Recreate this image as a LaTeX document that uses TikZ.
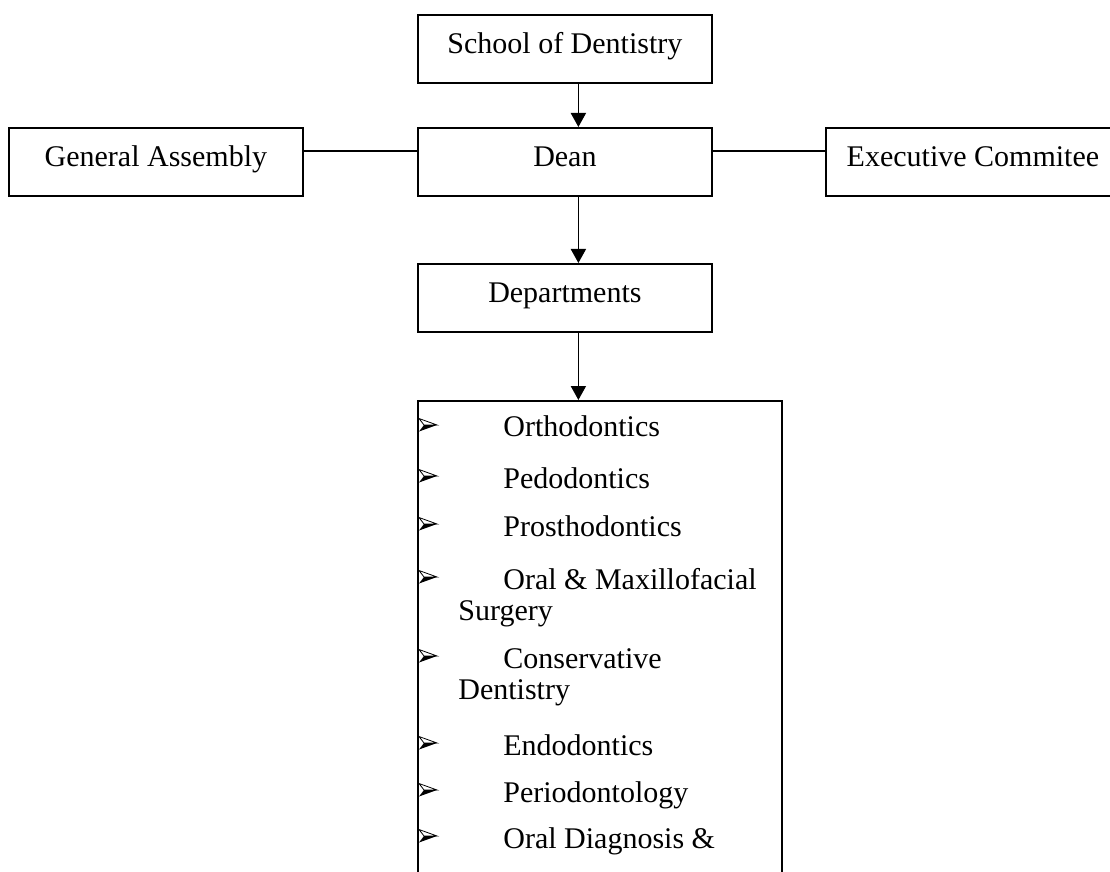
\documentclass[tikz,border=0pt]{standalone}
\usepackage{fontspec}
\setmainfont{Liberation Serif}
\usetikzlibrary{arrows.meta}

\tikzset{
  unit/.style={draw, line width=0.9pt, minimum width=147pt, text height=17pt,
    text depth=12pt, inner ysep=2.5pt, anchor=north west},
  arr/.style={line width=0.9pt, -{Triangle[length=7pt,width=7.5pt]}},
  link/.style={line width=0.9pt},
  item/.style={anchor=base west, inner sep=0pt},
}

% arrowhead bullet, light upper half and black lower half
\newcommand{\arrowbullet}[1]{%
  \draw[line width=0.4pt] (419,#1-6.5) -- (437,#1) -- (424,#1) -- cycle;
  \fill (424,#1) -- (437,#1) -- (419,#1+6.5) -- cycle;
}

\begin{document}
\begin{tikzpicture}[x=0.5pt, y=-0.5pt, font=\fontsize{15}{15.5}\selectfont]
\useasboundingbox (0,0) rectangle (1110,872);
\clip (0,0) rectangle (1110,872);

\node[unit] (school) at (417,14) {School of Dentistry};
\node[unit] (dean) at (417,127) {Dean};
\node[unit] (gen) at (8,127) {General Assembly};
\node[unit] (exec) at (825,127) {Executive Commitee};
\node[unit] (dept) at (417,263) {Departments};
\node[draw, line width=0.9pt, anchor=north west, minimum width=182pt,
  minimum height=300pt] (list) at (417,400) {};

% connectors
\draw[arr] ([xshift=6.75pt]school.south) -- ([xshift=6.75pt]dean.north);
\draw[arr] ([xshift=6.75pt]dean.south) -- ([xshift=6.75pt]dept.north);
\draw[arr] ([xshift=6.75pt]dept.south) -- ([xshift=6.75pt]dept.south |- list.north);
\draw[link] ([yshift=5.5pt]gen.east) -- ([yshift=5.5pt]dean.west);
\draw[link] ([yshift=5.5pt]dean.east) -- ([yshift=5.5pt]exec.west);

% departments
\foreach \y/\txt [count=\i] in {417/Orthodontics, 468/Pedodontics,
  516/Prosthodontics, 569/Oral \& Maxillofacial, 648/Conservative,
  735/Endodontics, 782/Periodontology, 828/Oral Diagnosis \&}
{
  \arrowbullet{\y+8}
  \node[item] (d\i) at (503,\y+20) {\txt};
}
\node[item] (d4b) at (458,620) {Surgery};
\node[item] (d5b) at (458,699) {Dentistry};
\end{tikzpicture}
\end{document}
